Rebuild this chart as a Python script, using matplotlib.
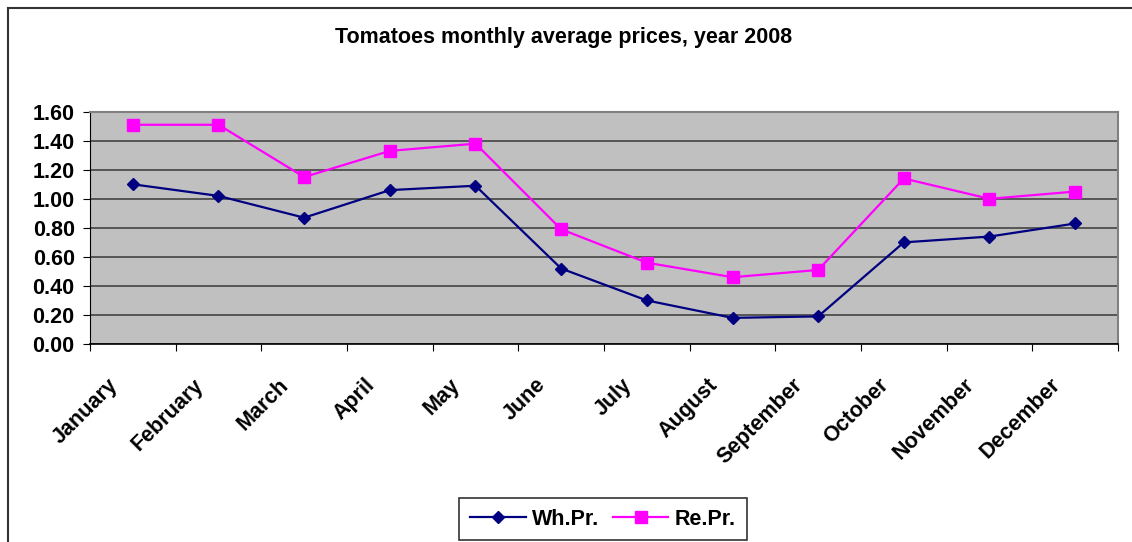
import matplotlib.pyplot as plt
from matplotlib.lines import Line2D

# ── Data ────────────────────────────────────────────────────────────────────
MONTHS = ["January", "February", "March", "April", "May", "June", "July",
          "August", "September", "October", "November", "December"]
WH_PR = [1.10, 1.02, 0.87, 1.06, 1.09, 0.52, 0.30, 0.18, 0.19, 0.70, 0.74, 0.83]
RE_PR = [1.51, 1.51, 1.15, 1.33, 1.38, 0.79, 0.56, 0.46, 0.51, 1.14, 1.00, 1.05]
Y_TICKS = [0.0, 0.2, 0.4, 0.6, 0.8, 1.0, 1.2, 1.4, 1.6]

C_WH = "#000080"
C_RE = "#ff00ff"
FS = 15.5

plt.rcParams["font.family"] = ["Liberation Sans", "DejaVu Sans"]

fig = plt.figure(figsize=(11.32, 5.42), dpi=100)
ax = fig.add_axes([90 / 1132, 1 - 344 / 542, 1028 / 1132, 232.3 / 542])

x = list(range(len(MONTHS)))
ax.plot(x, WH_PR, "-D", color=C_WH, lw=1.6, markersize=6.5, label="Wh.Pr.")
ax.plot(x, RE_PR, "-s", color=C_RE, lw=1.6, markersize=8.5, label="Re.Pr.")

ax.set_facecolor("#c0c0c0")
ax.set_xlim(-0.5, len(MONTHS) - 0.5)
ax.set_ylim(0, 1.6)
ax.set_yticks(Y_TICKS)
ax.set_yticklabels([f"{v:.2f}" for v in Y_TICKS], fontsize=FS, fontweight="bold")
ax.grid(True, axis="y", color="#4d4d4d", lw=1.3)
ax.set_axisbelow(True)

# category ticks at boundaries; rotated labels end a little left of centre
ax.set_xticks([i - 0.5 for i in range(len(MONTHS) + 1)])
ax.set_xticklabels([])
ax.set_xticks([i - 0.3 for i in x], minor=True)
ax.set_xticklabels(MONTHS, minor=True, rotation=45, ha="right",
                   rotation_mode="anchor", fontsize=FS, fontweight="bold")
ax.tick_params(axis="x", which="minor", length=0, pad=22)
ax.tick_params(axis="x", which="major", length=5, direction="out", color="black")
ax.tick_params(axis="y", length=5, direction="out", color="black", pad=6)

for side in ("top", "right"):
    ax.spines[side].set_color("#808080")
    ax.spines[side].set_linewidth(1.5)
ax.spines["left"].set_color("black")
ax.spines["bottom"].set_color("black")
ax.spines["bottom"].set_linewidth(1.2)

fig.text(564 / 1132, 1 - 37 / 542, "Tomatoes monthly average prices, year 2008",
         ha="center", va="center", fontsize=15.5, fontweight="bold")

# chart area border
fig.add_artist(Line2D([8 / 1132, 8 / 1132], [-0.05, 1 - 8 / 542], color="#333333", lw=1.5))
fig.add_artist(Line2D([8 / 1132, 1.05], [1 - 8 / 542, 1 - 8 / 542], color="#333333", lw=1.5))

leg = fig.legend(loc="upper center", bbox_to_anchor=(603 / 1132, 1 - 487 / 542), ncol=2,
                 frameon=True, fancybox=False, edgecolor="#333333", framealpha=1,
                 prop={"weight": "bold", "size": FS}, handlelength=2.6,
                 columnspacing=0.6, handletextpad=0.3, borderpad=0.5)
leg.get_frame().set_linewidth(1.2)

fig.savefig("out.png", dpi=100)
